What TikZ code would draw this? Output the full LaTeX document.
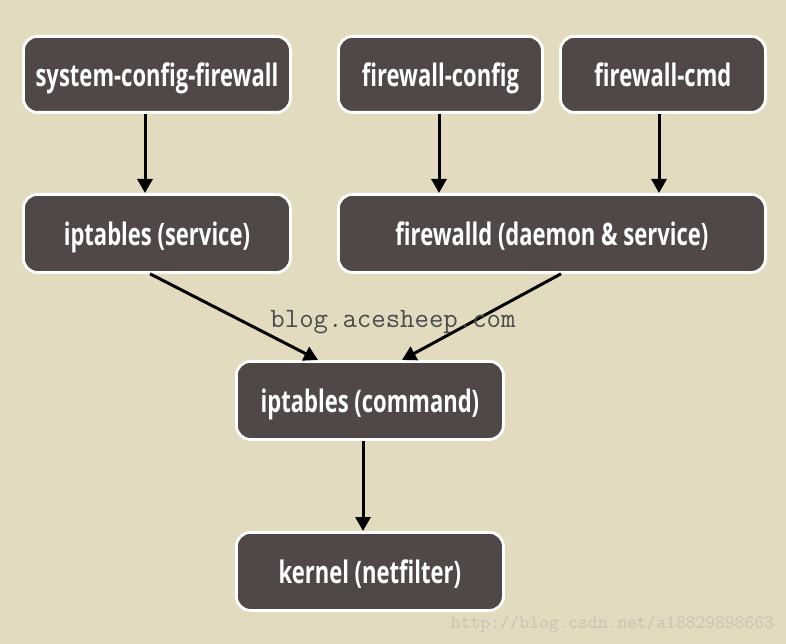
\documentclass[tikz,border=0pt]{standalone}
\usepackage{fontspec}
\setmainfont{Open Sans}
\newfontfamily\nodefont{Open Sans}[FakeStretch=0.71]
\usetikzlibrary{arrows.meta}
\definecolor{bgc}{RGB}{226,219,192}
\definecolor{boxc}{RGB}{80,72,71}
\definecolor{wmc}{RGB}{75,75,75}
\definecolor{wmc2}{RGB}{200,196,178}
\tikzset{
  box/.style={draw=white, line width=2.8pt, fill=boxc, rounded corners=14pt, text=white,
    font=\nodefont\bfseries\fontsize{31}{34}\selectfont, inner sep=0pt, anchor=north west,
    text height=24pt, text depth=0pt},
  arr/.style={line width=3pt, -{Triangle[length=14pt,width=15pt]}, black}
}
\begin{document}
\begin{tikzpicture}[x=1pt,y=-1pt]
\fill[bgc] (0,0) rectangle (786,644);
\useasboundingbox (0,0) rectangle (786,644);
\node[box, minimum width=267pt, minimum height=76pt] (scf) at (22,35) {system-config-firewall};
\node[box, minimum width=204pt, minimum height=76pt] (fc) at (337,35) {firewall-config};
\node[box, minimum width=205pt, minimum height=76pt] (cmd) at (559,35) {firewall-cmd};
\node[box, minimum width=267pt, minimum height=78pt] (ips) at (22,193) {iptables (service)};
\node[box, minimum width=427pt, minimum height=78pt] (fwd) at (337,193) {firewalld (daemon \& service)};
\node[box, minimum width=267pt, minimum height=78pt] (ipc) at (235,360) {iptables (command)};
\node[box, minimum width=267pt, minimum height=78pt] (ker) at (235,531) {kernel (netfilter)};
\draw[arr] (scf.south -| 145,0) -- (ips.north -| 145,0);
\draw[arr] (fc.south -| 439,0) -- (fwd.north -| 439,0);
\draw[arr] (cmd.south -| 659,0) -- (fwd.north -| 659,0);
\draw[arr] (ips.south -| 150,0) -- (ipc.north -| 318,0);
\draw[arr] (fwd.south -| 561,0) -- (ipc.north -| 402,0);
\draw[arr] (ipc.south -| 363,0) -- (ker.north -| 363,0);
\node[font=\ttfamily\fontsize{28}{30}\selectfont, text=wmc, inner sep=0pt] (wm1) at (393,322) {blog.acesheep.com};
\node[font=\ttfamily\fontsize{19}{21}\selectfont, text=wmc2, inner sep=0pt, anchor=east] (wm2) at (774,624) {http://blog.csdn.net/a18829898663};
\end{tikzpicture}
\end{document}
